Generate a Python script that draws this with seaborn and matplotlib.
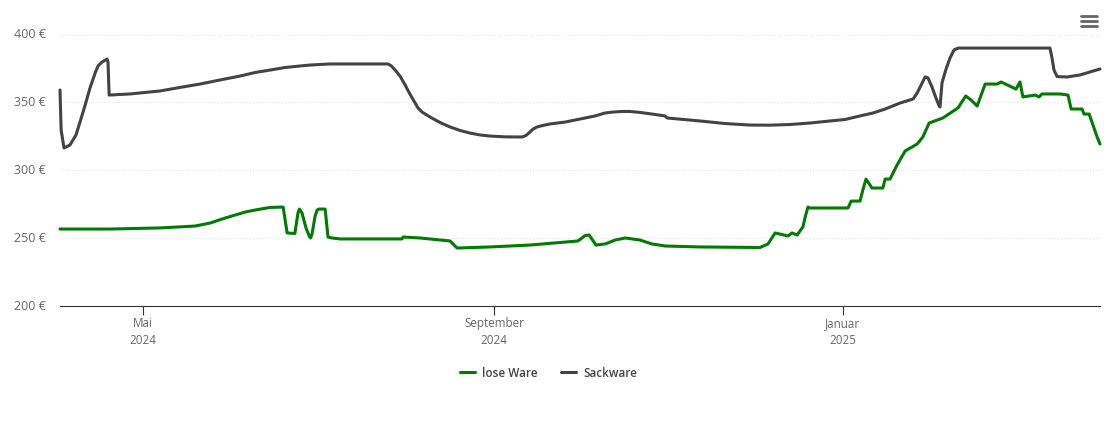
import pandas as pd
import seaborn as sns
import matplotlib.pyplot as plt
import matplotlib.dates as mdates
from matplotlib.lines import Line2D

# days counted from the first day of the chart, values in euro
start_date = '2024-04-02'
end_date = '2025-04-01'

lose_days = [0, 17.5, 35, 47.3, 52.5, 57.8, 61.3, 64.8, 68.3, 73.5, 78.1, 79.5, 82.2,
             83.3, 83.8, 84.7, 86.1, 87.2, 87.7, 88.2, 89.3, 90, 90.6, 92.8,
             93.8, 95.2, 98, 119.7, 120.1, 126, 136.5, 139, 150.5, 164.5, 181.3, 183.8, 185.2, 187.6, 190.8,
             194.3, 197.8, 203, 207.2, 211.8, 224, 245, 247.8, 250.3, 254.8, 256.2, 258, 260, 261, 261.8, 262.5,
             275.8, 276.9, 280, 281, 282.1, 284.2, 288, 288.8, 290.5, 293, 295.8, 300, 302, 304.2, 309, 314.3,
             317, 318.9, 321, 323.8, 328, 329.4, 334.6, 336, 337, 341.3, 342.7, 343.7, 350, 352.8, 353.9, 357.7,
             358.4, 360.2, 363, 364]
lose_values = [256.7, 256.7, 257.5, 258.9, 261.1, 264.8, 267, 269.2, 270.7, 272.6, 272.9, 253.8, 253.4,
               268.6, 271.4, 268.5, 257.5, 251.6, 250.1, 253, 266.3, 270.7, 271.4, 271.4,
               250.8, 250.1, 249.4, 249.4, 250.8, 250.1, 247.9, 242.7, 243.5, 244.9, 247.9, 251.9, 252.3, 244.9, 245.7,
               248.6, 250.1, 248.6, 245.7, 244.2, 243.5, 243.1, 245.7, 253.8, 251.6, 253.8, 252.3, 258.2, 267, 272.9, 272.2,
               272.2, 277.3, 277.3, 285.4, 293.5, 286.9, 286.9, 293.5, 293.5, 303.9, 314.2, 319.3, 324.5, 334.8, 338.5, 345.9,
               354.7, 351.7, 347.3, 363.5, 363.5, 365, 359.8, 365, 354, 355.4, 354, 356.2, 356.2, 355.4, 345.1, 345.1,
               341.4, 341.4, 324.5, 319.3]

sack_days = [0, 0.4, 1.4, 3.5, 5.6, 7, 8.8, 10.5, 12.3, 13.3, 14.7, 16.5, 16.8, 17.2, 24.5, 35, 42, 49, 56, 63, 68.3,
             73.5, 78.8, 84, 87.5, 94.5, 101.5, 114.8, 116, 117.3, 119, 120.8, 122.5, 125.3, 126.7, 129.5, 133, 136.5,
             140, 143.5, 147, 150.5, 155.8, 161.7, 163.1, 164.5, 165.6, 167, 169, 171.5, 176.8, 183.8, 187.3, 190.8,
             193.6, 196.7, 199.5, 203, 207.2, 211.8, 212.5, 224, 232.8, 241.5, 248.5, 255.5, 262.5, 269.5, 274.8, 280,
             284.6, 288.8, 294, 298.6, 300, 301.4, 302.8, 303.8, 305.2, 306.6, 307.7, 308, 308.7, 310, 311.5, 312.9,
             314.3, 346.5, 347.2, 347.9, 349, 352.5, 357, 364]
sack_values = [359.1, 329.6, 316.4, 318.6, 326, 335.5, 348, 360.6, 371.6, 376.8, 379.7, 381.9, 379.7, 355.4, 356.2, 358.4, 361, 363.5, 366.5, 369.4, 372,
               373.8, 375.7, 376.8, 377.5, 378.3, 378.3, 378.3, 376.8, 373.8, 369.4, 362.8, 356, 345.9, 342.9, 339.2, 335.2, 331.9,
               329.3, 327.4, 326, 325.2, 324.6, 324.5, 325.6, 328.2, 330.4, 331.9, 333, 334.1, 335.5, 338.5, 340, 342.2,
               342.9, 343.3, 343.3, 342.6, 341.4, 340, 338.5, 336.3, 334.4, 333.3, 333.2, 333.7, 334.8, 336.3, 337.4, 340,
               342.2, 345.1, 349.5, 352.5, 356.9, 362.8, 368.7, 368, 361.3, 353.2, 347.3, 346.6, 364.3, 373.8, 382.7, 388.6,
               390, 390, 382.7, 373.8, 369, 368.7, 370.2, 374.6]

y_ticks = [200, 250, 300, 350, 400]
x_ticks = ['2024-05-01', '2024-09-01', '2025-01-01']
x_labels = ['Mai\n2024', 'September\n2024', 'Januar\n2025']


def make_frame(days, values, name):
    d = pd.DataFrame({'day': days, 'value': values})
    d['date'] = pd.Timestamp(start_date) + pd.to_timedelta(d['day'], unit='D')
    d['series'] = name
    return d


df = pd.concat([make_frame(lose_days, lose_values, 'lose Ware'),
                make_frame(sack_days, sack_values, 'Sackware')])

sns.set_theme(style='white')
plt.rcParams['font.family'] = ['Open Sans', 'DejaVu Sans']

fig = plt.figure(figsize=(11.1, 4.23), dpi=100)
ax = fig.add_axes([60 / 1110, 1 - 306 / 423, 1040 / 1110, (306 - 34.5) / 423])

sns.lineplot(data=df, x='date', y='value', hue='series', sort=False, estimator=None,
             palette={'lose Ware': '#007a00', 'Sackware': '#434343'},
             linewidth=2.2, ax=ax, clip_on=False, solid_joinstyle='round', legend=False, zorder=3)

ax.set_xlim(pd.Timestamp(start_date), pd.Timestamp(end_date))
ax.set_ylim(200, 400)
ax.set_xlabel('')
ax.set_ylabel('')

ax.set_yticks(y_ticks)
ax.set_yticklabels([str(v) + ' €' for v in y_ticks], va='center')
ax.set_xticks([mdates.date2num(pd.Timestamp(t)) for t in x_ticks])
ax.set_xticklabels(x_labels, linespacing=1.35)
ax.tick_params(axis='x', bottom=True, length=6.5, width=0.8, color='#333333', labelsize=8.4, labelcolor='#666666', pad=1.5)
ax.tick_params(axis='y', length=0, labelsize=9, labelcolor='#666666', pad=10)
for label in ax.get_yticklabels():
    label.set_y(label.get_position()[1])
ax.grid(axis='y', color='#dcdcdc', linestyle=(0, (1, 2)), linewidth=0.7)
ax.set_axisbelow(True)

sns.despine(ax=ax, left=True, top=True, right=True)
ax.spines['bottom'].set_color('#333333')
ax.spines['bottom'].set_linewidth(0.8)

handles = [Line2D([], [], color='#007a00', linewidth=2.2), Line2D([], [], color='#434343', linewidth=2.2)]
fig.legend(handles, ['lose Ware', 'Sackware'], loc='center', bbox_to_anchor=(548.5 / 1110, 1 - 373 / 423), ncol=2,
           frameon=False, handlelength=1.3, handletextpad=0.55, columnspacing=2.0,
           prop={'size': 8.5, 'weight': 'semibold'}, labelcolor='#444444')

# menu button top right
for y_px in [16, 21, 26]:
    fig.add_artist(Line2D([1081 / 1110, 1097 / 1110], [1 - y_px / 423, 1 - y_px / 423], color='#666666', linewidth=2))

fig.savefig('out.png', dpi=100)
